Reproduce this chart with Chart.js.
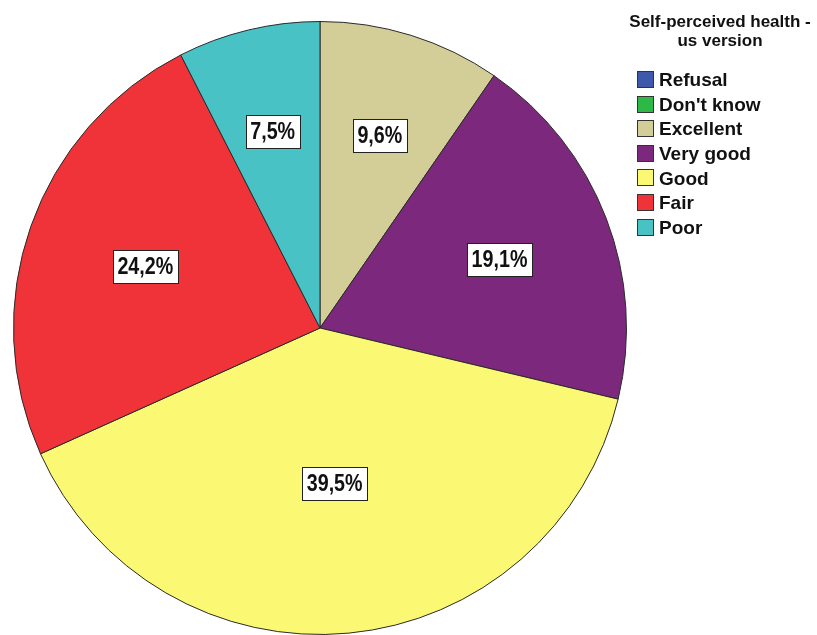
<!DOCTYPE html>
<html>
<head>
<meta charset="utf-8">
<script src="https://cdn.jsdelivr.net/npm/chart.js@4.4.0/dist/chart.umd.min.js"></script>
<style>
  body { margin: 0; background: #fff; }
  #wrap { width: 817px; height: 635px; position: relative; }
</style>
</head>
<body>
<div id="wrap"><canvas id="healthChart"></canvas></div>
<script>
const legendTitle = ["Self-perceived health -", "us version"];
const categories = ["Refusal", "Don't know", "Excellent", "Very good", "Good", "Fair", "Poor"];
const percentages = [0, 0, 9.6, 19.1, 39.5, 24.2, 7.5];
const sliceColors = ["#3e58ac", "#2eb848", "#d3ce97", "#7c287d", "#fbf873", "#ef3338", "#48c2c5"];

// white boxed percentage labels placed at each slice's centroid
const sliceLabels = {
  id: "sliceLabels",
  afterDatasetsDraw(chart) {
    const ctx = chart.ctx;
    const arcs = chart.getDatasetMeta(0).data;
    ctx.save();
    ctx.font = "bold 24px 'Liberation Sans', Arial, sans-serif";
    ctx.textBaseline = "middle";
    ctx.textAlign = "center";
    arcs.forEach((arc, i) => {
      const v = percentages[i];
      if (!v) return;
      const { x, y, startAngle, endAngle, outerRadius } = arc.getProps(["x", "y", "startAngle", "endAngle", "outerRadius"], true);
      const half = (endAngle - startAngle) / 2;
      const mid = startAngle + half;
      const r = (2 * outerRadius * Math.sin(half)) / (3 * half);
      const cx = x + Math.cos(mid) * r;
      const cy = y + Math.sin(mid) * r;
      const text = v.toFixed(1).replace(".", ",") + "%";
      const squeeze = 0.82;
      const w = ctx.measureText(text).width * squeeze + 9;
      const h = 33;
      ctx.fillStyle = "#fff";
      ctx.fillRect(Math.round(cx - w / 2) + 0.5, Math.round(cy - h / 2) + 0.5, Math.round(w), h);
      ctx.strokeStyle = "#222";
      ctx.lineWidth = 1;
      ctx.strokeRect(Math.round(cx - w / 2) + 0.5, Math.round(cy - h / 2) + 0.5, Math.round(w), h);
      ctx.save();
      ctx.translate(cx, cy + 1);
      ctx.scale(squeeze, 1);
      ctx.fillStyle = "#111";
      ctx.fillText(text, 0, 0);
      ctx.restore();
    });
    ctx.restore();
  },
};

// SPSS style legend at the top right
const sideLegend = {
  id: "sideLegend",
  afterDraw(chart) {
    const ctx = chart.ctx;
    ctx.save();
    ctx.fillStyle = "#111";
    ctx.textBaseline = "middle";
    ctx.textAlign = "center";
    ctx.font = "bold 17px 'Liberation Sans', Arial, sans-serif";
    legendTitle.forEach((line, i) => ctx.fillText(line, 720, 22 + i * 19));

    ctx.textAlign = "left";
    ctx.font = "bold 19px 'Liberation Sans', Arial, sans-serif";
    categories.forEach((name, i) => {
      const rowY = 80 + i * 24.6;
      ctx.fillStyle = sliceColors[i];
      ctx.fillRect(637, Math.round(rowY - 9), 17, 17);
      ctx.strokeStyle = "#333";
      ctx.lineWidth = 1;
      ctx.strokeRect(637.5, Math.round(rowY - 9) + 0.5, 16, 16);
      ctx.fillStyle = "#111";
      ctx.fillText(name, 659, rowY + 1);
    });
    ctx.restore();
  },
};

new Chart(document.getElementById("healthChart").getContext("2d"), {
  type: "pie",
  data: {
    labels: categories,
    datasets: [
      {
        data: percentages,
        backgroundColor: sliceColors,
        borderColor: "#2a2a2a",
        borderWidth: 1,
      },
    ],
  },
  options: {
    responsive: true,
    maintainAspectRatio: false,
    animation: false,
    layout: { padding: { top: 21, left: 13, right: 190, bottom: 0 } },
    plugins: {
      legend: { display: false },
      tooltip: { enabled: false },
    },
  },
  plugins: [sliceLabels, sideLegend],
});
</script>
</body>
</html>
